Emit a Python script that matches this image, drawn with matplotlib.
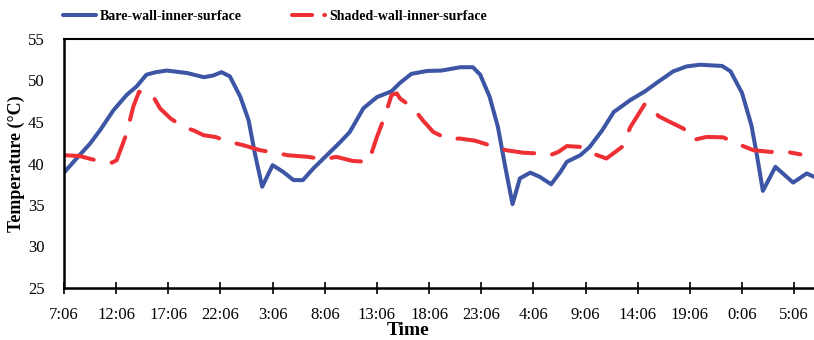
import numpy as np
import matplotlib
matplotlib.use('Agg')
from matplotlib import pyplot as plt
from matplotlib.lines import Line2D

plt.rcParams['font.family'] = ['Liberation Serif', 'DejaVu Serif']

# hours after 7:06 on the first day
bare_h = [0, 1.2, 2.5, 3.45, 4.73, 6.0, 6.97, 7.9, 8.8, 9.85, 11.8, 13.4, 14.3, 15.1, 15.9,
          16.9, 17.7, 18.3, 19.0, 20.0, 21.0, 22.0, 22.9, 23.9, 25.2, 26.5, 27.4, 28.7,
          30.0, 31.4, 32.2, 33.3, 34.8, 36.2, 38.0, 39.2, 39.9, 40.8, 41.6, 42.3, 43.0,
          43.7, 44.7, 45.6, 46.7, 47.6, 48.2, 49.5, 50.4, 51.6, 52.7, 54.3, 55.7, 56.8,
          58.4, 59.7, 61.0, 63.1, 63.9, 65.0, 65.9, 66.4, 67.0, 68.2, 69.9, 71.2, 71.9]
bare_t = [38.9, 40.6, 42.4, 44.0, 46.4, 48.25, 49.3, 50.7, 51.0, 51.2, 50.9, 50.4, 50.6,
          51.0, 50.5, 48.05, 45.2, 41.2, 37.2, 39.8, 39.0, 38.0, 38.0, 39.4, 41.0, 42.6,
          43.8, 46.65, 48.0, 48.7, 49.7, 50.8, 51.15, 51.2, 51.6, 51.6, 50.7, 48.05, 44.4,
          39.6, 35.1, 38.2, 38.9, 38.4, 37.5, 39.0, 40.2, 41.0, 42.0, 44.0, 46.2, 47.65,
          48.7, 49.7, 51.1, 51.7, 51.9, 51.75, 51.1, 48.5, 44.6, 41.2, 36.7, 39.6, 37.7,
          38.8, 38.4]

shaded_h = [0, 1.5, 3.0, 4.6, 5.05, 6.0, 6.64, 7.2, 8.4, 9.2, 10.2, 11.4, 12.4, 13.4,
            14.5, 15.9, 17.2, 18.8, 20.7, 21.4, 23.4, 24.9, 26.1, 27.7, 29.2, 30.0, 30.8,
            31.4, 31.9, 32.2, 33.5, 34.4, 35.4, 36.7, 38.0, 39.4, 40.8, 42.4, 44.0, 45.6,
            46.6, 47.4, 48.2, 49.5, 50.7, 52.0, 53.5, 54.3, 54.9, 55.7, 56.2, 57.0, 58.1,
            59.4, 60.2, 61.6, 63.2, 64.5, 66.1, 67.7, 69.3, 70.6]
shaded_t = [41.0, 40.9, 40.4, 40.1, 40.4, 43.6, 46.85, 48.65, 48.4, 46.65, 45.45, 44.4,
            44.0, 43.4, 43.2, 42.6, 42.2, 41.6, 41.2, 41.0, 40.8, 40.5, 40.8, 40.3, 40.2,
            43.2, 45.85, 48.25, 48.45, 47.85, 46.65, 45.2, 43.8, 43.0, 43.0, 42.75, 42.2,
            41.6, 41.3, 41.2, 41.0, 41.4, 42.1, 42.0, 41.2, 40.6, 42.0, 44.4, 45.6, 47.2,
            46.9, 45.7, 45.0, 44.2, 42.8, 43.2, 43.15, 42.4, 41.6, 41.4, 41.4, 41.1]

tick_labels = ['7:06', '12:06', '17:06', '22:06', '3:06', '8:06', '13:06', '18:06',
               '23:06', '4:06', '9:06', '14:06', '19:06', '0:06', '5:06']

blue = '#3C55A5'
red = '#EE3035'

fig = plt.figure(figsize=(8.14, 3.40), dpi=100)
ax = fig.add_axes([64 / 814, 1 - 288 / 340, 750 / 814, 249 / 340])

ax.plot(bare_h, bare_t, color=blue, lw=2.9, solid_capstyle='round', solid_joinstyle='round')
ax.plot(shaded_h, shaded_t, color=red, lw=2.9, dashes=(7.5, 4.5), dash_capstyle='round',
        dash_joinstyle='round')

ax.set_xlim(0, 71.9)
ax.set_ylim(25, 55)
ax.set_xticks(np.arange(len(tick_labels)) * 5)
ax.set_xticklabels(tick_labels)
ax.set_yticks(np.arange(25, 56, 5))

ax.spines['right'].set_visible(False)
ax.spines['left'].set_linewidth(1.8)
ax.spines['bottom'].set_linewidth(1.8)
ax.spines['top'].set_linewidth(1.5)
ax.tick_params(axis='y', length=0, pad=14, labelsize=12)
ax.tick_params(axis='x', direction='inout', length=9, width=1.2, pad=9, labelsize=12)

ax.set_ylabel('Temperature (°C)', fontsize=13, fontweight='bold', labelpad=2)
ax.set_xlabel('Time', fontsize=14, fontweight='bold')
ax.xaxis.set_label_coords(0.459, -0.135)

handles = [Line2D([], [], color=blue, lw=2.9, solid_capstyle='round'),
           Line2D([], [], color=red, lw=2.9, dashes=(5, 3), dash_capstyle='round')]
fig.legend(handles, ['Bare-wall-inner-surface', 'Shaded-wall-inner-surface'],
           loc='center left', bbox_to_anchor=(50 / 814, 1 - 16 / 340), ncol=2,
           frameon=False, handlelength=2.4, handletextpad=0.3, columnspacing=3.6,
           prop={'size': 10, 'weight': 'bold'})

fig.savefig('out.png', dpi=100)
